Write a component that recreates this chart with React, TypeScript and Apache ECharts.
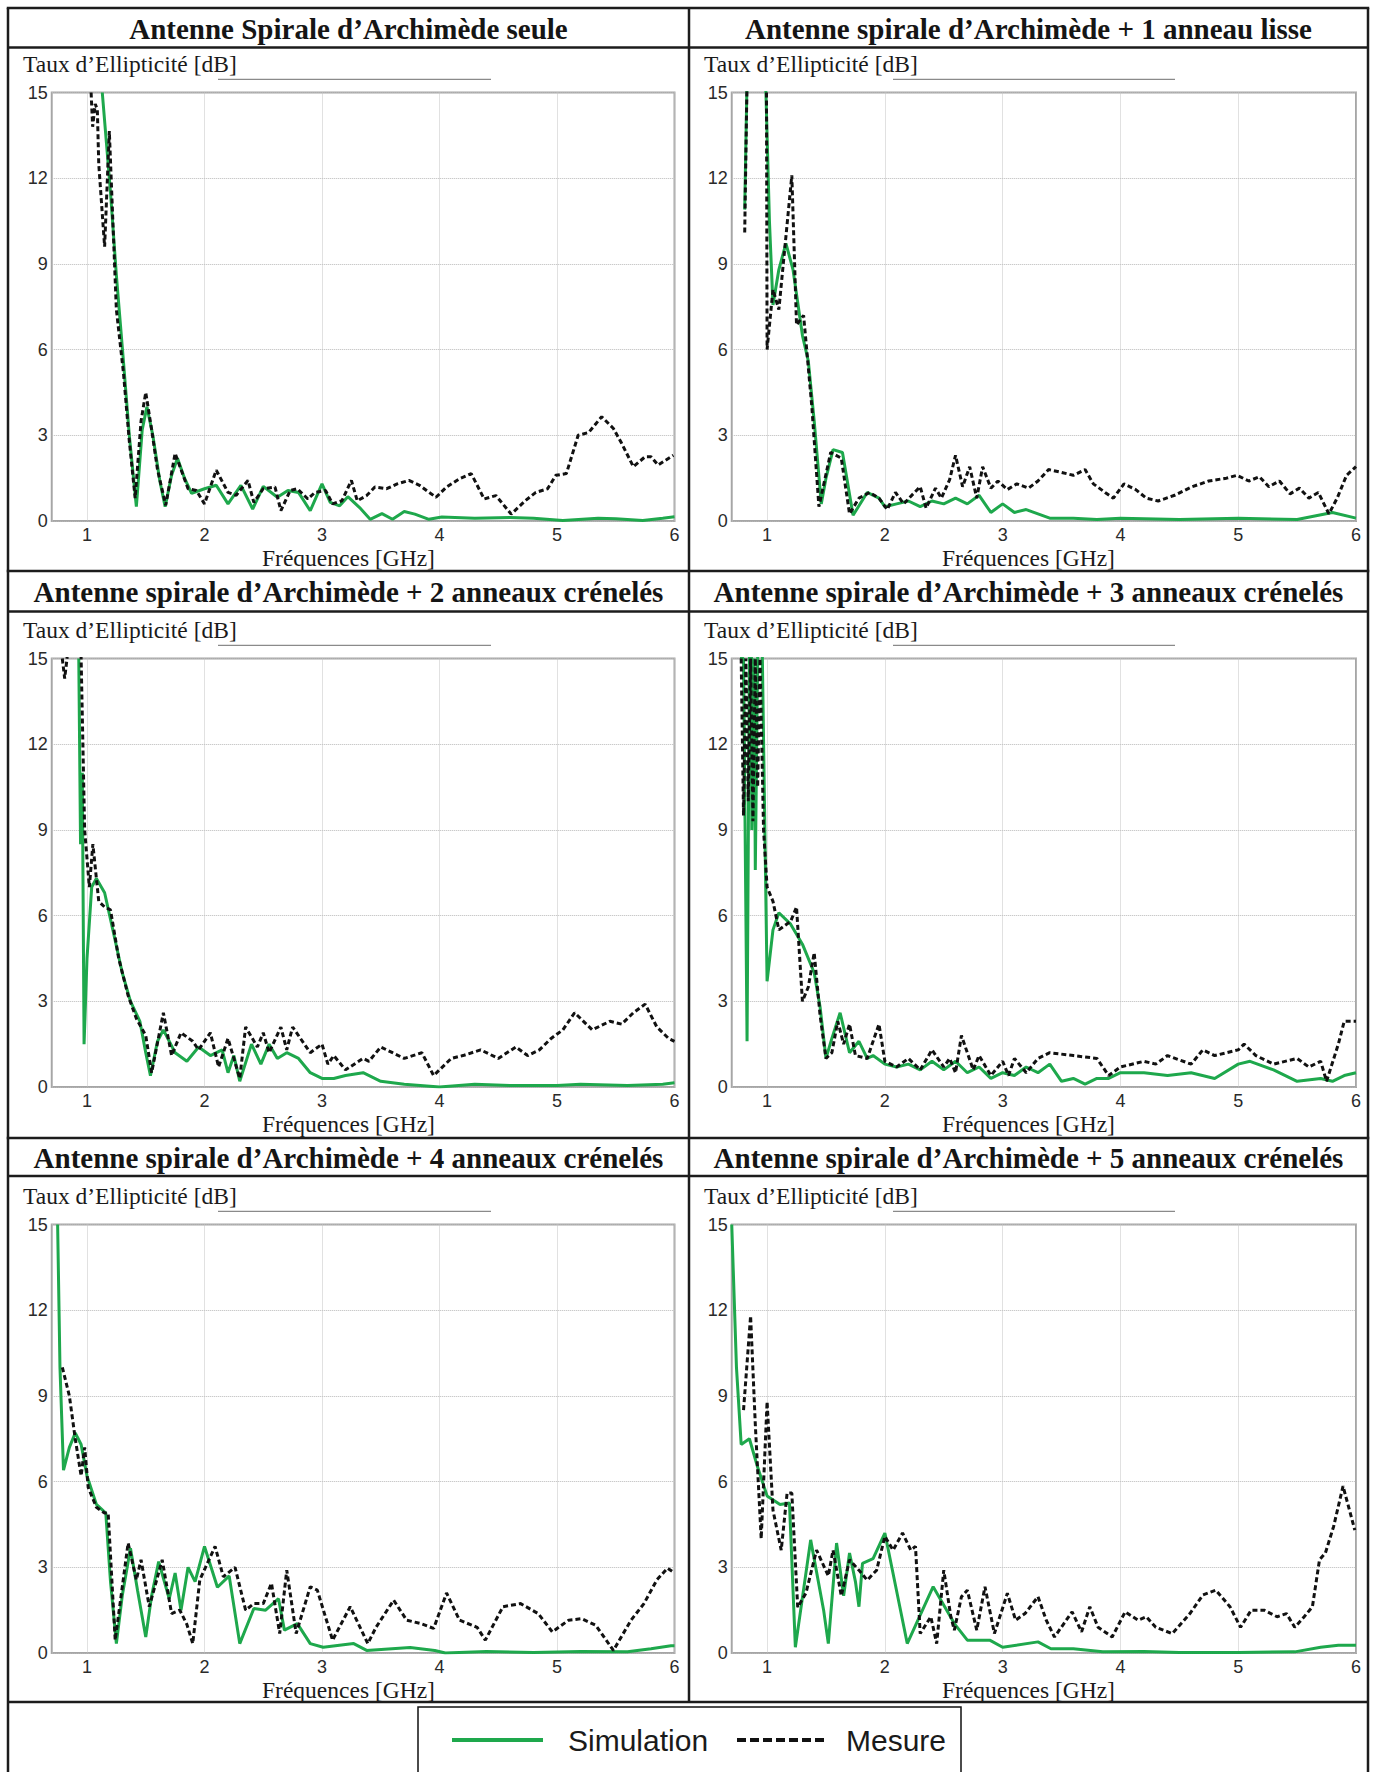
import React, { useEffect, useRef } from "react";
import * as echarts from "echarts";

type Pt = [number, number];

const chartTitles = [
  "Antenne Spirale d’Archimède seule",
  "Antenne spirale d’Archimède + 1 anneau lisse",
  "Antenne spirale d’Archimède + 2 anneaux crénelés",
  "Antenne spirale d’Archimède + 3 anneaux crénelés",
  "Antenne spirale d’Archimède + 4 anneaux crénelés",
  "Antenne spirale d’Archimède + 5 anneaux crénelés",
];
const yAxisName = "Taux d’Ellipticité [dB]";
const xAxisName = "Fréquences [GHz]";
const seriesNames = ["Simulation", "Mesure"];
const freqMin = 0.7;
const freqMax = 6;
const dbMin = 0;
const dbMax = 15;
const dbStep = 3;

const sim1: Pt[] = [[1.13,15],[1.2,11.5],[1.25,8.6],[1.31,5.6],[1.36,3.0],[1.42,0.5],[1.47,3.2],[1.51,4.0],[1.56,3.0],[1.62,1.4],[1.665,0.5],[1.72,1.6],[1.77,2.2],[1.83,1.5],[1.89,0.97],[2.0,1.13],[2.1,1.25],[2.2,0.6],[2.31,1.25],[2.41,0.42],[2.5,1.21],[2.62,0.83],[2.71,1.07],[2.8,1.0],[2.9,0.36],[3.0,1.3],[3.07,0.65],[3.15,0.53],[3.22,0.85],[3.32,0.47],[3.41,0.06],[3.51,0.26],[3.6,0.06],[3.7,0.33],[3.79,0.24],[3.91,0.06],[4.02,0.14],[4.3,0.1],[4.6,0.12],[4.8,0.1],[5.05,0.02],[5.35,0.1],[5.5,0.08],[5.73,0.02],[5.9,0.1],[6.0,0.15]];
const mes1: Pt[] = [[1.035,15],[1.048,13.8],[1.07,14.6],[1.088,14.4],[1.1,12.5],[1.15,9.6],[1.19,13.65],[1.22,10.5],[1.25,7.4],[1.31,5.2],[1.36,2.8],[1.41,0.8],[1.46,3.5],[1.5,4.5],[1.55,3.2],[1.6,1.8],[1.67,0.55],[1.75,2.37],[1.86,1.13],[1.93,1.07],[2.0,0.6],[2.1,1.78],[2.2,1.0],[2.27,0.9],[2.37,1.42],[2.42,0.65],[2.5,1.13],[2.6,1.19],[2.65,0.36],[2.73,1.07],[2.79,1.13],[2.88,0.77],[2.94,1.0],[3.03,1.07],[3.09,0.6],[3.17,0.71],[3.25,1.42],[3.3,0.71],[3.38,0.89],[3.45,1.19],[3.55,1.13],[3.64,1.3],[3.74,1.42],[3.83,1.25],[3.97,0.83],[4.06,1.19],[4.17,1.48],[4.27,1.66],[4.38,0.77],[4.48,0.89],[4.61,0.24],[4.73,0.71],[4.82,1.0],[4.92,1.13],[4.99,1.6],[5.08,1.66],[5.18,3.0],[5.27,3.1],[5.38,3.65],[5.48,3.24],[5.55,2.72],[5.65,1.9],[5.75,2.25],[5.8,2.25],[5.86,1.96],[5.99,2.3]];

const sim2: Pt[] = [[0.81,10.9],[0.83,15.5],[0.86,19],[0.97,19],[0.99,15],[1.02,10.5],[1.05,7.56],[1.1,8.8],[1.16,9.72],[1.22,8.8],[1.3,6.5],[1.35,5.6],[1.4,3.5],[1.46,0.6],[1.5,1.5],[1.56,2.5],[1.64,2.4],[1.73,0.2],[1.85,1.0],[1.95,0.8],[2.0,0.5],[2.1,0.6],[2.2,0.7],[2.3,0.5],[2.4,0.7],[2.5,0.6],[2.6,0.8],[2.7,0.6],[2.8,0.9],[2.9,0.3],[3.0,0.6],[3.1,0.3],[3.2,0.4],[3.4,0.1],[3.6,0.1],[3.8,0.05],[4.0,0.1],[4.5,0.05],[5.0,0.1],[5.5,0.05],[5.8,0.3],[6.0,0.1]];
const mes2: Pt[] = [[0.81,10.1],[0.83,15.5],[0.85,19],[0.98,19],[0.995,15],[1.0,6.0],[1.05,8.1],[1.1,7.4],[1.21,12.1],[1.25,6.86],[1.31,7.2],[1.38,4.0],[1.44,0.5],[1.54,2.4],[1.63,2.2],[1.7,0.25],[1.78,0.8],[1.87,1.0],[1.95,0.8],[2.02,0.4],[2.09,1.0],[2.16,0.6],[2.24,0.95],[2.3,1.2],[2.35,0.45],[2.43,1.15],[2.48,0.8],[2.55,1.45],[2.6,2.3],[2.66,1.2],[2.72,1.9],[2.78,0.8],[2.83,1.9],[2.9,1.15],[2.96,1.4],[3.04,1.1],[3.12,1.3],[3.22,1.15],[3.3,1.4],[3.39,1.8],[3.5,1.7],[3.6,1.6],[3.7,1.8],[3.77,1.3],[3.87,1.0],[3.94,0.8],[4.03,1.3],[4.13,1.1],[4.22,0.8],[4.32,0.7],[4.46,0.9],[4.61,1.2],[4.75,1.4],[4.9,1.5],[4.99,1.6],[5.09,1.4],[5.18,1.55],[5.26,1.2],[5.35,1.4],[5.44,0.95],[5.52,1.15],[5.6,0.8],[5.68,1.0],[5.77,0.25],[5.84,0.8],[5.92,1.6],[6.0,1.9]];

const sim3: Pt[] = [[0.93,15],[0.945,8.5],[0.96,11],[0.975,1.5],[1.0,4.5],[1.04,7.0],[1.08,7.3],[1.15,6.8],[1.22,5.5],[1.3,4.0],[1.37,3.0],[1.45,2.3],[1.5,1.2],[1.54,0.4],[1.6,1.6],[1.65,2.0],[1.75,1.2],[1.85,0.9],[1.95,1.4],[2.05,1.1],[2.15,1.3],[2.2,0.5],[2.25,1.1],[2.3,0.2],[2.4,1.5],[2.48,0.8],[2.55,1.5],[2.62,1.0],[2.7,1.2],[2.8,1.0],[2.9,0.5],[3.0,0.3],[3.1,0.3],[3.2,0.4],[3.35,0.5],[3.5,0.2],[3.7,0.1],[4.0,0.0],[4.3,0.1],[4.6,0.05],[5.0,0.05],[5.2,0.1],[5.6,0.05],[5.9,0.1],[6.0,0.15]];
const mes3: Pt[] = [[0.79,15],[0.81,14.3],[0.83,15],[0.86,19],[0.92,19],[0.95,15],[0.98,9],[1.02,7.0],[1.05,8.5],[1.1,6.5],[1.15,6.3],[1.2,6.2],[1.27,4.5],[1.35,3.2],[1.42,2.4],[1.5,1.8],[1.55,0.5],[1.65,2.6],[1.72,1.1],[1.8,1.9],[1.9,1.6],[1.95,1.3],[2.05,1.9],[2.12,0.7],[2.2,1.7],[2.3,0.3],[2.35,2.1],[2.45,1.4],[2.5,1.9],[2.55,1.2],[2.65,2.1],[2.7,1.3],[2.75,2.1],[2.85,1.5],[2.9,1.2],[3.0,1.5],[3.05,0.8],[3.1,1.1],[3.2,0.6],[3.35,1.0],[3.4,0.9],[3.5,1.4],[3.6,1.2],[3.7,1.0],[3.85,1.2],[3.95,0.4],[4.1,1.0],[4.2,1.1],[4.35,1.3],[4.5,1.0],[4.65,1.4],[4.75,1.1],[4.85,1.3],[4.95,1.7],[5.05,2.0],[5.15,2.6],[5.3,2.0],[5.45,2.3],[5.55,2.2],[5.65,2.6],[5.75,2.9],[5.85,2.1],[5.95,1.7],[6.0,1.6]];

const sim4: Pt[] = [[0.77,15],[0.8,15],[0.83,1.6],[0.85,15],[0.865,19],[0.87,9],[0.89,15],[0.9,7.6],[0.92,15],[0.94,19],[0.96,15],[1.0,3.7],[1.05,5.5],[1.1,6.1],[1.2,5.7],[1.3,5.0],[1.4,4.0],[1.45,2.8],[1.5,1.0],[1.55,1.7],[1.62,2.6],[1.7,1.2],[1.78,1.6],[1.85,1.0],[1.9,1.1],[2.0,0.8],[2.1,0.7],[2.2,0.8],[2.3,0.6],[2.4,0.9],[2.5,0.6],[2.6,0.9],[2.7,0.5],[2.8,0.7],[2.9,0.3],[3.0,0.5],[3.1,0.4],[3.2,0.7],[3.3,0.5],[3.4,0.8],[3.5,0.2],[3.6,0.3],[3.7,0.1],[3.8,0.3],[3.9,0.3],[4.0,0.5],[4.2,0.5],[4.4,0.4],[4.6,0.5],[4.8,0.3],[5.0,0.8],[5.1,0.9],[5.3,0.6],[5.5,0.2],[5.7,0.3],[5.8,0.2],[5.9,0.4],[6.0,0.5]];
const mes4: Pt[] = [[0.78,15],[0.8,9.5],[0.82,15],[0.84,10],[0.86,15],[0.88,9.3],[0.9,15],[0.92,10.5],[0.94,15],[0.97,9],[1.0,7.0],[1.05,6.5],[1.1,5.5],[1.2,5.8],[1.25,6.3],[1.3,3.0],[1.35,3.5],[1.4,4.7],[1.45,2.5],[1.5,1.0],[1.55,1.2],[1.6,2.3],[1.65,1.5],[1.7,2.2],[1.75,1.1],[1.85,1.0],[1.95,2.2],[2.0,0.9],[2.1,0.7],[2.2,1.0],[2.3,0.6],[2.4,1.3],[2.5,0.7],[2.55,1.0],[2.6,0.5],[2.65,1.8],[2.75,0.6],[2.8,1.1],[2.9,0.4],[3.0,0.9],[3.05,0.4],[3.1,1.0],[3.2,0.5],[3.3,1.0],[3.4,1.2],[3.6,1.1],[3.8,1.0],[3.9,0.4],[4.0,0.7],[4.2,0.9],[4.3,0.8],[4.4,1.1],[4.6,0.8],[4.7,1.3],[4.8,1.1],[4.9,1.2],[5.0,1.3],[5.05,1.5],[5.15,1.1],[5.3,0.8],[5.5,1.0],[5.6,0.7],[5.7,0.9],[5.75,0.2],[5.85,1.5],[5.9,2.3],[6.0,2.3]];

const sim5: Pt[] = [[0.75,15],[0.77,10],[0.8,6.4],[0.85,7.2],[0.9,7.7],[0.95,7.3],[1.0,6.2],[1.08,5.2],[1.16,4.9],[1.2,2.5],[1.25,0.33],[1.3,2.0],[1.37,3.67],[1.43,2.2],[1.5,0.56],[1.55,2.0],[1.61,3.2],[1.7,1.9],[1.75,2.8],[1.8,1.5],[1.86,3.0],[1.92,2.5],[2.0,3.73],[2.11,2.3],[2.21,2.7],[2.3,0.33],[2.42,1.56],[2.52,1.5],[2.63,1.9],[2.68,0.8],[2.79,1.03],[2.9,0.33],[3.01,0.2],[3.27,0.33],[3.38,0.09],[3.75,0.19],[3.96,0.09],[4.05,0],[4.4,0.05],[4.8,0.02],[5.2,0.05],[5.6,0.04],[5.8,0.15],[5.97,0.25],[6.0,0.25]];
const mes5: Pt[] = [[0.79,10.0],[0.85,9.0],[0.9,7.5],[0.95,6.2],[0.98,7.2],[1.01,5.8],[1.08,5.1],[1.15,4.9],[1.18,4.9],[1.24,0.45],[1.35,3.85],[1.42,2.56],[1.46,3.26],[1.53,1.62],[1.64,3.26],[1.72,1.38],[1.79,1.5],[1.85,1.0],[1.9,0.33],[1.96,2.56],[2.09,3.73],[2.16,2.67],[2.26,3.0],[2.35,1.5],[2.42,1.73],[2.5,1.73],[2.57,2.44],[2.64,0.68],[2.7,2.9],[2.78,0.68],[2.9,2.32],[2.96,2.2],[3.09,0.45],[3.24,1.62],[3.39,0.33],[3.46,0.9],[3.61,1.85],[3.72,1.15],[3.84,1.03],[3.95,0.86],[4.06,2.1],[4.17,1.15],[4.32,0.9],[4.39,0.45],[4.54,1.62],[4.69,1.73],[4.84,1.38],[4.96,0.74],[5.1,1.15],[5.21,1.2],[5.33,0.97],[5.48,0.09],[5.63,1.15],[5.74,1.73],[5.85,2.56],[5.94,2.97],[6.0,2.8]];

const sim6: Pt[] = [[0.7,15],[0.74,10],[0.78,7.3],[0.85,7.5],[0.92,6.5],[1.0,5.5],[1.11,5.2],[1.19,5.25],[1.24,0.2],[1.37,3.96],[1.48,1.5],[1.52,0.33],[1.59,3.85],[1.65,2.0],[1.7,3.5],[1.75,2.5],[1.78,1.62],[1.81,3.14],[1.9,3.3],[2.0,4.2],[2.19,0.33],[2.41,2.32],[2.59,1.03],[2.7,0.45],[2.89,0.45],[3.0,0.2],[3.3,0.39],[3.41,0.15],[3.6,0.15],[3.85,0.04],[4.2,0.05],[4.5,0.02],[5.0,0.02],[5.48,0.04],[5.7,0.2],[5.85,0.27],[6.0,0.27]];
const mes6: Pt[] = [[0.8,8.5],[0.86,11.8],[0.9,8],[0.95,4.0],[1.0,8.8],[1.05,5.0],[1.12,3.6],[1.17,5.6],[1.21,5.6],[1.26,1.6],[1.33,2.1],[1.42,3.6],[1.52,2.7],[1.56,3.6],[1.63,2.0],[1.7,3.26],[1.78,2.9],[1.85,2.55],[1.93,2.9],[2.0,4.08],[2.07,3.6],[2.15,4.2],[2.22,3.6],[2.26,3.73],[2.3,0.68],[2.39,1.27],[2.44,0.33],[2.5,2.9],[2.56,1.27],[2.59,0.8],[2.65,1.97],[2.7,2.2],[2.78,0.8],[2.85,2.32],[2.93,0.68],[3.04,2.09],[3.11,1.15],[3.19,1.38],[3.3,1.97],[3.37,1.15],[3.44,0.56],[3.52,1.03],[3.59,1.44],[3.67,0.74],[3.74,1.62],[3.81,0.9],[3.93,0.56],[4.04,1.44],[4.15,1.15],[4.22,1.27],[4.3,0.9],[4.44,0.68],[4.59,1.38],[4.7,2.03],[4.81,2.2],[4.93,1.62],[5.02,0.9],[5.11,1.5],[5.22,1.5],[5.33,1.27],[5.41,1.38],[5.48,0.9],[5.56,1.27],[5.63,1.62],[5.69,3.26],[5.74,3.5],[5.81,4.43],[5.89,5.84],[5.99,4.3]];

const simData = [sim1, sim2, sim3, sim4, sim5, sim6];
const mesData = [mes1, mes2, mes3, mes4, mes5, mes6];

// layout
const PAGE_W = 1375;
const PAGE_H = 1772;
const COL_L = [8, 689];
const COL_R = [689, 1368];
const ROW_T = [8, 571, 1138];
const TITLE_B = [47.5, 611.5, 1176];
const LEGEND_T = 1702;
const GRID_L = [51.75, 731.75];
const GRID_W = [622.75, 624.25];
const GRID_T = [92.5, 658.5, 1224.5];
const GRID_H = 428.5;

const GREEN = "#1ea84c";
const BLACK = "#111111";
const BORDER = "#1c1c1c";
const SERIF = "'Liberation Serif', 'Times New Roman', serif";
const SANS = "'Liberation Sans', Arial, sans-serif";

function buildOption() {
  const grids: any[] = [];
  const xAxes: any[] = [];
  const yAxes: any[] = [];
  const series: any[] = [];
  const graphics: any[] = [];

  const hLine = (y: number, x1: number, x2: number, w = 2.5) =>
    graphics.push({ type: "line", silent: true, z: 100, shape: { x1, y1: y, x2, y2: y }, style: { stroke: BORDER, lineWidth: w } });
  const vLine = (x: number, y1: number, y2: number, w = 2.5) =>
    graphics.push({ type: "line", silent: true, z: 100, shape: { x1: x, y1, x2: x, y2 }, style: { stroke: BORDER, lineWidth: w } });

  for (let i = 0; i < 6; i++) {
    const row = Math.floor(i / 2);
    const col = i % 2;
    grids.push({
      left: GRID_L[col],
      top: GRID_T[row],
      width: GRID_W[col],
      height: GRID_H,
      show: true,
      borderColor: "#a6a6a6",
      borderWidth: 2,
      backgroundColor: "#ffffff",
      containLabel: false,
      outerBoundsMode: "none",
    });
    xAxes.push({
      gridIndex: i,
      type: "value",
      min: freqMin,
      max: freqMax,
      splitNumber: 5,
      axisLine: { show: false },
      axisTick: { show: false },
      axisLabel: { showMinLabel: false, color: "#2a2a2a", fontSize: 18, lineHeight: 18, fontFamily: SANS, margin: 5 },
      splitLine: { show: true, lineStyle: { color: "#c2c2c2", type: "dotted", width: 1 } },
    });
    yAxes.push({
      gridIndex: i,
      type: "value",
      min: dbMin,
      max: dbMax,
      interval: dbStep,
      axisLine: { show: false },
      axisTick: { show: false },
      axisLabel: { color: "#2a2a2a", fontSize: 18, fontFamily: SANS, margin: 4 },
      splitLine: { show: true, lineStyle: { color: "#b8b8b8", type: "dotted", width: 1 } },
    });
    series.push({
      name: seriesNames[0],
      type: "line",
      xAxisIndex: i,
      yAxisIndex: i,
      data: simData[i],
      showSymbol: false,
      symbol: "none",
      clip: true,
      z: 3,
      lineStyle: { color: GREEN, width: 3 },
    });
    series.push({
      name: seriesNames[1],
      type: "line",
      xAxisIndex: i,
      yAxisIndex: i,
      data: mesData[i],
      showSymbol: false,
      symbol: "none",
      clip: true,
      z: 4,
      lineStyle: { color: BLACK, width: 3, type: [5, 3] },
    });

    const cx = (COL_L[col] + COL_R[col]) / 2;
    // title
    graphics.push({
      type: "text",
      silent: true,
      style: {
        text: chartTitles[i],
        x: cx,
        y: (ROW_T[row] + TITLE_B[row]) / 2 + 1,
        align: "center",
        verticalAlign: "middle",
        fontFamily: SERIF,
        fontWeight: "bold",
        fontSize: 29,
        fill: "#151515",
      },
    });
    // y axis name
    graphics.push({
      type: "text",
      silent: true,
      style: {
        text: yAxisName,
        x: COL_L[col] + 15,
        y: GRID_T[row] - 29,
        align: "left",
        verticalAlign: "middle",
        fontFamily: SERIF,
        fontSize: 23.5,
        fill: "#1a1a1a",
      },
    });
    // thin stray rule next to the y name
    const rx = col === 0 ? [218, 491] : [893, 1175];
    graphics.push({
      type: "line",
      silent: true,
      shape: { x1: rx[0], y1: GRID_T[row] - 13.2, x2: rx[1], y2: GRID_T[row] - 13.2 },
      style: { stroke: "#8a8a8a", lineWidth: 1.3 },
    });
    // x axis name
    graphics.push({
      type: "text",
      silent: true,
      style: {
        text: xAxisName,
        x: cx,
        y: GRID_T[row] + GRID_H + 36.5,
        align: "center",
        verticalAlign: "middle",
        fontFamily: SERIF,
        fontSize: 23.5,
        lineHeight: 24,
        fill: "#1a1a1a",
      },
    });
  }

  // table borders
  vLine(COL_L[0], 8, PAGE_H);
  vLine(COL_R[1], 8, PAGE_H);
  vLine(COL_R[0], 8, LEGEND_T);
  for (let r = 0; r < 3; r++) {
    hLine(ROW_T[r], COL_L[0] - 1.25, COL_R[1] + 1.25);
    hLine(TITLE_B[r], COL_L[0], COL_R[1]);
  }
  hLine(LEGEND_T, COL_L[0], COL_R[1]);

  // legend box
  graphics.push({
    type: "rect",
    silent: true,
    shape: { x: 418, y: 1707, width: 543, height: 80 },
    style: { fill: "#fff", stroke: "#111", lineWidth: 1.5 },
  });
  graphics.push({
    type: "line",
    silent: true,
    shape: { x1: 452, y1: 1740, x2: 543, y2: 1740 },
    style: { stroke: GREEN, lineWidth: 4 },
  });
  graphics.push({
    type: "text",
    silent: true,
    style: { text: seriesNames[0], x: 568, y: 1740, align: "left", verticalAlign: "middle", fontFamily: SANS, fontSize: 30, fill: "#1a1a1a" },
  });
  graphics.push({
    type: "line",
    silent: true,
    shape: { x1: 737, y1: 1740, x2: 825, y2: 1740 },
    style: { stroke: BLACK, lineWidth: 4, lineDash: [9, 4] },
  });
  graphics.push({
    type: "text",
    silent: true,
    style: { text: seriesNames[1], x: 846, y: 1740, align: "left", verticalAlign: "middle", fontFamily: SANS, fontSize: 30, fill: "#1a1a1a" },
  });

  return {
    animation: false,
    backgroundColor: "#ffffff",
    grid: grids,
    xAxis: xAxes,
    yAxis: yAxes,
    series,
    graphic: graphics,
  };
}

export default function App() {
  const ref = useRef<HTMLDivElement>(null);
  useEffect(() => {
    if (!ref.current) return;
    const chart = echarts.init(ref.current, undefined, { renderer: "svg", width: PAGE_W, height: PAGE_H });
    chart.setOption(buildOption() as any);
    return () => chart.dispose();
  }, []);
  return (
    <div
      ref={ref}
      style={{ position: "absolute", left: 0, top: 0, width: PAGE_W, height: PAGE_H, background: "#fff" }}
    />
  );
}
